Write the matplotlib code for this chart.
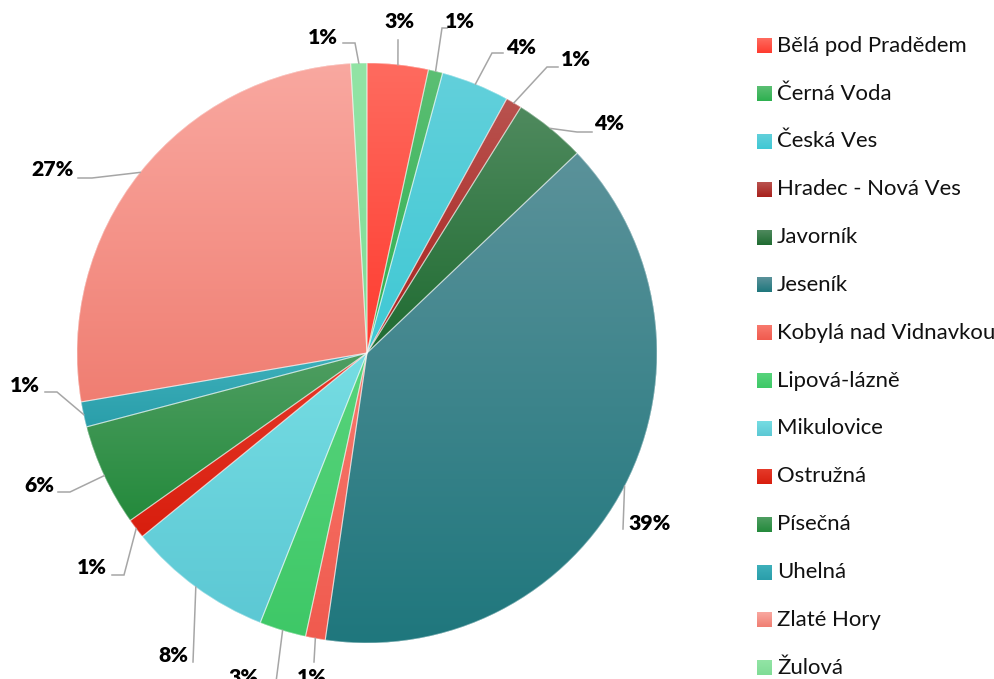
import numpy as np
import matplotlib.pyplot as plt
from matplotlib.colors import LinearSegmentedColormap

# share of each place (percent), clockwise from 12 o'clock
places = ['Bělá pod Pradědem', 'Černá Voda', 'Česká Ves', 'Hradec - Nová Ves',
          'Javorník', 'Jeseník', 'Kobylá nad Vidnavkou', 'Lipová-lázně',
          'Mikulovice', 'Ostružná', 'Písečná', 'Uhelná', 'Zlaté Hory', 'Žulová']
shares = [3.4, 0.8, 3.8, 0.9, 4.0, 39.4, 1.1, 2.6, 8.1, 1.1, 5.7, 1.4, 26.8, 0.9]

# gradient colours, top -> bottom
top_colors = ['#fe6b5f', '#5cbf74', '#62d0db', '#b9534f', '#4f8a5e', '#5b929a',
              '#f87a6e', '#58d47c', '#76dde3', '#e53a2a', '#4f9e62', '#3eb0bb',
              '#f9a8a0', '#92e4a5']
bottom_colors = ['#ff3b2f', '#2db04f', '#3fc8d4', '#a8201c', '#1f6b31', '#1f777d',
                 '#f05a4e', '#3ec867', '#5cc8d4', '#d81e0e', '#248a3c', '#2a9eaa',
                 '#f07e72', '#80dc96']

W, H = 995, 679
CX, CY, R = 367, 353, 290

plt.rcParams['font.family'] = ['Lato', 'DejaVu Sans']

fig = plt.figure(figsize=(W / 100, H / 100), dpi=100)
ax = fig.add_axes([(CX - R) / W, (H - CY - R) / H, 2 * R / W, 2 * R / H])

wedges, _ = ax.pie(shares, startangle=90, counterclock=False, colors=bottom_colors,
                   wedgeprops=dict(linewidth=0))
grad = np.linspace(0, 1, 256).reshape(-1, 1)
for w, c0, c1 in zip(wedges, top_colors, bottom_colors):
    x0, y0, x1, y1 = w.get_path().get_extents().extents
    cmap = LinearSegmentedColormap.from_list('g', [c0, c1])
    im = ax.imshow(grad, cmap=cmap, extent=(x0, x1, y0, y1), origin='upper',
                   aspect='auto', interpolation='bilinear', zorder=2)
    im.set_clip_path(w)
ax.pie(shares, startangle=90, counterclock=False, colors=['none'] * len(shares),
       wedgeprops=dict(edgecolor=(1, 1, 1, 0.45), linewidth=0.8, zorder=3))
ax.set_xlim(-1, 1)
ax.set_ylim(-1, 1)
ax.set_aspect('equal')
ax.axis('off')

# overlay in pixel coordinates for labels and legend
ov = fig.add_axes([0, 0, 1, 1])
ov.set_zorder(5)

# label layout: elbow point, line end, text centre
label_pos = [
    ((398, 40), (398, 40), (400, 22)),
    ((442, 28), (447, 28), (460, 21)),
    ((492, 53), (503, 53), (521, 47)),
    ((547, 67), (558, 67), (576, 60)),
    ((577, 132), (592, 132), (609, 124)),
    ((623, 529), (623, 529), (650, 523)),
    ((314, 662), (314, 662), (312, 678)),
    ((275, 690), (264, 690), (244, 678)),
    ((193, 662), (193, 662), (173, 655)),
    ((124, 575), (112, 575), (92, 568)),
    ((70, 492), (58, 492), (39, 485)),
    ((57, 392), (45, 392), (25, 385)),
    ((92, 178), (78, 178), (53, 170)),
    ((355, 43), (343, 43), (323, 37)),
]

total = sum(shares)
cum = np.cumsum(shares)
for s, c, (elb, end, txt) in zip(shares, cum, label_pos):
    th = np.radians(360 * (c - s / 2) / total)
    ax_x = CX + R * np.sin(th)
    ax_y = CY - R * np.cos(th)
    ov.plot([ax_x, elb[0], end[0]], [ax_y, elb[1], end[1]], color='#a6a6a6', lw=1.1,
            solid_joinstyle='miter')
    ov.text(txt[0], txt[1], f'{round(s / total * 100)}%', ha='center', va='center',
            fontsize=15.2, fontweight='heavy', color='#000000')

# legend
for i, (name, c0, c1) in enumerate(zip(places, top_colors, bottom_colors)):
    y = 45.7 + i * 47.85
    cmap = LinearSegmentedColormap.from_list('g', [c0, c1])
    ov.imshow(grad, cmap=cmap, extent=(757, 772, y + 7.5, y - 7.5), origin='upper',
              aspect='auto', interpolation='bilinear')
    ov.text(777, y, name, ha='left', va='center', fontsize=15.9, color='#111111')

ov.set_xlim(0, W)
ov.set_ylim(H, 0)
ov.axis('off')

fig.savefig('out.png', dpi=100)
